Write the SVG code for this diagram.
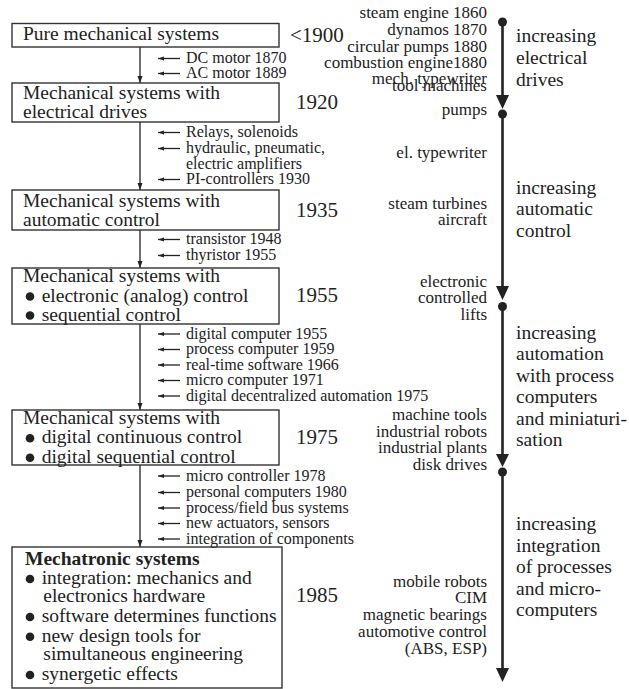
<svg xmlns="http://www.w3.org/2000/svg" width="629" height="689" viewBox="0 0 629 689">
<defs>
<style>
text{fill:#222}
.box{fill:#fff;stroke:#333;stroke-width:1.4}
.bt{font-size:19.5px}
.bold{font-weight:bold}
.yr{font-size:21px}
.lb{font-size:16px}
.rl{font-size:17px;text-anchor:end}
.ph{font-size:19.5px}
.bul{fill:#222}
.conn{stroke:#222;stroke-width:1.3;fill:none}
.tl{stroke:#222;stroke-width:2.6;fill:none}
.tlh{fill:#222}
</style>
<marker id="ah" markerUnits="userSpaceOnUse" markerWidth="8" markerHeight="6" refX="7" refY="3" orient="auto">
<path d="M0,0.5 L7,3 L0,5.5 z" fill="#222"/>
</marker>
<marker id="ahs" markerUnits="userSpaceOnUse" markerWidth="7" markerHeight="5" refX="6" refY="2.5" orient="auto">
<path d="M0,0.5 L6,2.5 L0,4.5 z" fill="#222"/>
</marker>
</defs>
<rect x="0" y="0" width="629" height="689" fill="#fff"/>
<g font-family="'Liberation Serif', 'Times New Roman', serif">
<g id="connectors">
<line class="conn" x1="140" y1="47" x2="140" y2="83" marker-end="url(#ah)"/>
<line class="conn" x1="140" y1="122" x2="140" y2="190" marker-end="url(#ah)"/>
<line class="conn" x1="140" y1="230" x2="140" y2="268" marker-end="url(#ah)"/>
<line class="conn" x1="140" y1="324" x2="140" y2="410" marker-end="url(#ah)"/>
<line class="conn" x1="140" y1="465" x2="140" y2="547" marker-end="url(#ah)"/>
<g id="influence-arrows">
<line class="conn" x1="180" y1="58.5" x2="158" y2="58.5" marker-end="url(#ahs)"/>
<line class="conn" x1="180" y1="73.5" x2="158" y2="73.5" marker-end="url(#ahs)"/>
<line class="conn" x1="180" y1="132.5" x2="158" y2="132.5" marker-end="url(#ahs)"/>
<line class="conn" x1="180" y1="148.5" x2="158" y2="148.5" marker-end="url(#ahs)"/>
<line class="conn" x1="180" y1="179.5" x2="158" y2="179.5" marker-end="url(#ahs)"/>
<line class="conn" x1="180" y1="239.5" x2="158" y2="239.5" marker-end="url(#ahs)"/>
<line class="conn" x1="180" y1="255.5" x2="158" y2="255.5" marker-end="url(#ahs)"/>
<line class="conn" x1="180" y1="334" x2="158" y2="334" marker-end="url(#ahs)"/>
<line class="conn" x1="180" y1="349.5" x2="158" y2="349.5" marker-end="url(#ahs)"/>
<line class="conn" x1="180" y1="365" x2="158" y2="365" marker-end="url(#ahs)"/>
<line class="conn" x1="180" y1="380.5" x2="158" y2="380.5" marker-end="url(#ahs)"/>
<line class="conn" x1="180" y1="396" x2="158" y2="396" marker-end="url(#ahs)"/>
<line class="conn" x1="180" y1="476" x2="158" y2="476" marker-end="url(#ahs)"/>
<line class="conn" x1="180" y1="492.5" x2="158" y2="492.5" marker-end="url(#ahs)"/>
<line class="conn" x1="180" y1="508" x2="158" y2="508" marker-end="url(#ahs)"/>
<line class="conn" x1="180" y1="523.5" x2="158" y2="523.5" marker-end="url(#ahs)"/>
<line class="conn" x1="180" y1="539" x2="158" y2="539" marker-end="url(#ahs)"/>
</g>
</g>

<g id="node-pure">
<rect class="box" x="12" y="23.5" width="267" height="23.5"/>
<text class="bt" x="23" y="40">Pure mechanical systems</text>
<text class="yr" x="290" y="42">&lt;1900</text>
</g>
<g id="node-electrical">
<rect class="box" x="12" y="83" width="267" height="39"/>
<text class="bt" x="23" y="98.5">Mechanical systems with</text>
<text class="bt" x="23" y="117.5">electrical drives</text>
<text class="yr" x="296" y="109">1920</text>
</g>
<g id="node-automatic">
<rect class="box" x="12" y="190" width="267" height="40"/>
<text class="bt" x="23" y="206.5">Mechanical systems with</text>
<text class="bt" x="23" y="226">automatic control</text>
<text class="yr" x="296" y="217">1935</text>
</g>
<g id="node-electronic">
<rect class="box" x="12" y="268" width="267" height="56"/>
<text class="bt" x="23" y="282">Mechanical systems with</text>
<circle class="bul" cx="30" cy="296.5" r="4.3"/>
<text class="bt" x="41.7" y="301.7">electronic (analog) control</text>
<circle class="bul" cx="30" cy="315.5" r="4.3"/>
<text class="bt" x="41.7" y="320.7">sequential control</text>
<text class="yr" x="296" y="302">1955</text>
</g>
<g id="node-digital">
<rect class="box" x="12" y="410" width="267" height="55"/>
<text class="bt" x="23" y="423.5">Mechanical systems with</text>
<circle class="bul" cx="30" cy="438.3" r="4.3"/>
<text class="bt" x="41.7" y="443.3">digital continuous control</text>
<circle class="bul" cx="30" cy="457.7" r="4.3"/>
<text class="bt" x="41.7" y="462.7">digital sequential control</text>
<text class="yr" x="296" y="443.5">1975</text>
</g>
<g id="node-mechatronic">
<rect class="box" x="12" y="547" width="270" height="141"/>
<text class="bt bold" x="25" y="565">Mechatronic systems</text>
<circle class="bul" cx="30" cy="579" r="4.3"/>
<text class="bt" x="41.7" y="584">integration: mechanics and</text>
<text class="bt" x="43.3" y="601.7">electronics hardware</text>
<circle class="bul" cx="30" cy="617" r="4.3"/>
<text class="bt" x="41.7" y="622">software determines functions</text>
<circle class="bul" cx="30" cy="636.7" r="4.3"/>
<text class="bt" x="41.7" y="641.7">new design tools for</text>
<text class="bt" x="43.3" y="660">simultaneous engineering</text>
<circle class="bul" cx="30" cy="675" r="4.3"/>
<text class="bt" x="41.7" y="680">synergetic effects</text>
<text class="yr" x="296" y="602">1985</text>
</g>

<g id="influences">
<text class="lb" x="186" y="63">DC motor 1870</text>
<text class="lb" x="186" y="78">AC motor 1889</text>
<text class="lb" x="186" y="137">Relays, solenoids</text>
<text class="lb" x="186" y="153">hydraulic, pneumatic,</text>
<text class="lb" x="186" y="168.5">electric amplifiers</text>
<text class="lb" x="186" y="184">PI-controllers 1930</text>
<text class="lb" x="186" y="244">transistor 1948</text>
<text class="lb" x="186" y="260">thyristor 1955</text>
<text class="lb" x="186" y="338.5">digital computer 1955</text>
<text class="lb" x="186" y="354">process computer 1959</text>
<text class="lb" x="186" y="369.5">real-time software 1966</text>
<text class="lb" x="186" y="385">micro computer 1971</text>
<text class="lb" x="186" y="400.5">digital decentralized automation 1975</text>
<text class="lb" x="186" y="480.5">micro controller 1978</text>
<text class="lb" x="186" y="497">personal computers 1980</text>
<text class="lb" x="186" y="512.5">process/field bus systems</text>
<text class="lb" x="186" y="528">new actuators, sensors</text>
<text class="lb" x="186" y="543.5">integration of components</text>
</g>

<g id="applications">
<text class="rl" x="487" y="18">steam engine 1860</text>
<text class="rl" x="487" y="34.5">dynamos 1870</text>
<text class="rl" x="487" y="51.5">circular pumps 1880</text>
<text class="rl" x="487" y="68">combustion engine1880</text>
<text class="rl" x="487" y="84">mech. typewriter</text>
<text class="rl" x="487" y="91">tool machines</text>
<text class="rl" x="487" y="115">pumps</text>
<text class="rl" x="487" y="158">el. typewriter</text>
<text class="rl" x="487" y="209">steam turbines</text>
<text class="rl" x="487" y="225">aircraft</text>
<text class="rl" x="487" y="287">electronic</text>
<text class="rl" x="487" y="303">controlled</text>
<text class="rl" x="487" y="319.5">lifts</text>
<text class="rl" x="487" y="420">machine tools</text>
<text class="rl" x="487" y="436.7">industrial robots</text>
<text class="rl" x="487" y="453.3">industrial plants</text>
<text class="rl" x="487" y="469.5">disk drives</text>
<text class="rl" x="487" y="586.5">mobile robots</text>
<text class="rl" x="487" y="603">CIM</text>
<text class="rl" x="487" y="620">magnetic bearings</text>
<text class="rl" x="487" y="637">automotive control</text>
<text class="rl" x="487" y="654">(ABS, ESP)</text>
</g>

<g id="timeline">
<circle class="tlh" cx="502.5" cy="22" r="4.5"/>
<line class="tl" x1="502.5" y1="22" x2="502.5" y2="97"/>
<polygon class="tlh" points="496,95 509,95 502.5,109"/>
<circle class="tlh" cx="502.5" cy="114" r="4.5"/>
<line class="tl" x1="502.5" y1="114" x2="502.5" y2="288"/>
<polygon class="tlh" points="496,286 509,286 502.5,300"/>
<circle class="tlh" cx="502.5" cy="306.5" r="4.5"/>
<line class="tl" x1="502.5" y1="306.5" x2="502.5" y2="456"/>
<polygon class="tlh" points="496,454 509,454 502.5,467"/>
<circle class="tlh" cx="502.5" cy="472" r="4.5"/>
<line class="tl" x1="502.5" y1="472" x2="502.5" y2="670"/>
<polygon class="tlh" points="496,668 509,668 502.5,682"/>
</g>

<g id="phases">
<text class="ph" x="516" y="42">increasing</text>
<text class="ph" x="516" y="64">electrical</text>
<text class="ph" x="516" y="86">drives</text>
<text class="ph" x="516" y="193.5">increasing</text>
<text class="ph" x="516" y="215">automatic</text>
<text class="ph" x="516" y="237">control</text>
<text class="ph" x="516" y="338.5">increasing</text>
<text class="ph" x="516" y="360">automation</text>
<text class="ph" x="516" y="381.5">with process</text>
<text class="ph" x="516" y="403">computers</text>
<text class="ph" x="516" y="424.5">and miniaturi-</text>
<text class="ph" x="516" y="446">sation</text>
<text class="ph" x="516" y="530">increasing</text>
<text class="ph" x="516" y="551.5">integration</text>
<text class="ph" x="516" y="573">of processes</text>
<text class="ph" x="516" y="594.5">and micro-</text>
<text class="ph" x="516" y="616">computers</text>
</g>
</g>
</svg>
